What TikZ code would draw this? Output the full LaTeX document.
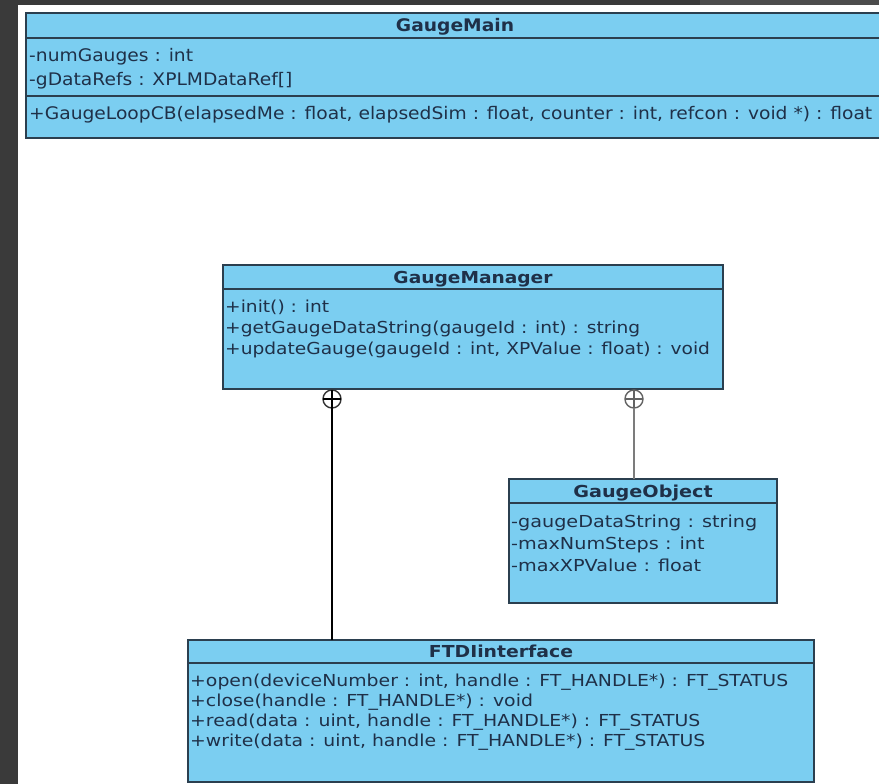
\documentclass[tikz,border=0pt]{standalone}
\usepackage{fontspec}
\usepackage{graphicx}
\newfontfamily\classfont{DejaVu Sans}
\definecolor{boxfill}{HTML}{7BCEF1}
\definecolor{boxline}{HTML}{2B3F4F}
\definecolor{txtcol}{HTML}{1F3048}
\definecolor{darkbg}{HTML}{3A3A3A}
\definecolor{darkbgb}{HTML}{4C4C4C}
\definecolor{conngray}{HTML}{7C7C7C}
\newlength\natw
\newcommand\cf{\classfont\fontsize{16.5}{19}\selectfont}
\begin{document}
\settowidth{\natw}{\cf +GaugeLoopCB(elapsedMe : float, elapsedSim : float, counter : int, refcon : void *) : float}%
\pgfmathsetmacro\sxA{843/\natw}%
\settowidth{\natw}{\cf +getGaugeDataString(gaugeId : int) : string}%
\pgfmathsetmacro\sxB{415/\natw}%
\settowidth{\natw}{\cf -gaugeDataString : string}%
\pgfmathsetmacro\sxC{246/\natw}%
\settowidth{\natw}{\cf +open(deviceNumber : int, handle : FT\_HANDLE*) : FT\_STATUS}%
\pgfmathsetmacro\sxD{598/\natw}%
\begin{tikzpicture}[x=1pt,y=-1pt,
  cls/.style={draw=boxline, fill=boxfill, line width=1.8pt, inner sep=0pt, outer sep=0pt, anchor=north west},
  sepline/.style={draw=boxline, line width=1.6pt},
  txt/.style={anchor=base west, inner sep=0pt, text=txtcol, font=\cf},
  ttl/.style={anchor=base, inner sep=0pt, text=txtcol, font=\cf\bfseries},
  pluscirc/.style={circle, draw, line width=1.4pt, minimum size=18pt, inner sep=0pt, outer sep=0pt, fill=white},
  assocblack/.style={draw=black, line width=1.4pt},
  assocgray/.style={draw=conngray, line width=2.8pt},
]
\useasboundingbox (0,0) rectangle (879,784);
\clip (0,0) rectangle (879,784);
\fill[white] (0,0) rectangle (879,784);
\fill[darkbg] (0,0) rectangle (18,784);
\fill[darkbg] (0,0) rectangle (700,5);
\fill[darkbgb] (700,0) rectangle (879,5);

% ---------- GaugeMain ----------
\node[cls, minimum width=858pt, minimum height=125pt] (gmain) at (26,13) {};
\draw[sepline] ([yshift=-25pt]gmain.north west) -- ([yshift=-25pt]gmain.north east);
\draw[sepline] ([yshift=-83pt]gmain.north west) -- ([yshift=-83pt]gmain.north east);
\node[ttl] (gmainT) at (455,32) {\scalebox{\sxA}[1.05]{GaugeMain}};
\node[txt] (gmainA1) at (29,62) {\scalebox{\sxA}[1.05]{-numGauges : int}};
\node[txt] (gmainA2) at (29,86) {\scalebox{\sxA}[1.05]{-gDataRefs : XPLMDataRef[]}};
\node[txt] (gmainO1) at (29,119) {\scalebox{\sxA}[1.05]{+GaugeLoopCB(elapsedMe : float, elapsedSim : float, counter : int, refcon : void *) : float}};

% ---------- GaugeManager ----------
\node[cls, minimum width=500pt, minimum height=124pt] (gmgr) at (223,265) {};
\draw[sepline] ([yshift=-24pt]gmgr.north west) -- ([yshift=-24pt]gmgr.north east);
\node[ttl] (gmgrT) at (473,283) {\scalebox{\sxB}[1]{GaugeManager}};
\node[txt] (gmgrO1) at (225,312) {\scalebox{\sxB}[1]{+init() : int}};
\node[txt] (gmgrO2) at (225,333) {\scalebox{\sxB}[1]{+getGaugeDataString(gaugeId : int) : string}};
\node[txt] (gmgrO3) at (225,354) {\scalebox{\sxB}[1]{+updateGauge(gaugeId : int, XPValue : float) : void}};

% ---------- GaugeObject ----------
\node[cls, minimum width=268pt, minimum height=124pt] (gobj) at (509,479) {};
\draw[sepline] ([yshift=-24pt]gobj.north west) -- ([yshift=-24pt]gobj.north east);
\node[ttl] (gobjT) at (643,497) {\scalebox{\sxC}[1]{GaugeObject}};
\node[txt] (gobjA1) at (511,527) {\scalebox{\sxC}[1]{-gaugeDataString : string}};
\node[txt] (gobjA2) at (511,549) {\scalebox{\sxC}[1]{-maxNumSteps : int}};
\node[txt] (gobjA3) at (511,571) {\scalebox{\sxC}[1]{-maxXPValue : float}};

% ---------- FTDIinterface ----------
\node[cls, minimum width=626pt, minimum height=142pt] (ftdi) at (188,640) {};
\draw[sepline] ([yshift=-23pt]ftdi.north west) -- ([yshift=-23pt]ftdi.north east);
\node[ttl] (ftdiT) at (501,657) {\scalebox{\sxD}[1]{FTDIinterface}};
\node[txt] (ftdiO1) at (190,686) {\scalebox{\sxD}[1]{+open(deviceNumber : int, handle : FT\_HANDLE*) : FT\_STATUS}};
\node[txt] (ftdiO2) at (190,706) {\scalebox{\sxD}[1]{+close(handle : FT\_HANDLE*) : void}};
\node[txt] (ftdiO3) at (190,726) {\scalebox{\sxD}[1]{+read(data : uint, handle : FT\_HANDLE*) : FT\_STATUS}};
\node[txt] (ftdiO4) at (190,746) {\scalebox{\sxD}[1]{+write(data : uint, handle : FT\_HANDLE*) : FT\_STATUS}};

% ---------- containment connectors ----------
\node[pluscirc, draw=black!80] (pc1) at (332,399) {};
\draw[assocblack] (pc1.west) -- (pc1.east);
\draw[assocblack] (pc1.north) -- (pc1.south);
\draw[assocblack] (pc1.south) -- (ftdi.north -| pc1.south);

\node[pluscirc, draw=conngray!80!black] (pc2) at (634,399) {};
\draw[draw=conngray!80!black, line width=1.4pt] (pc2.west) -- (pc2.east);
\draw[draw=conngray!80!black, line width=1.4pt] (pc2.north) -- (pc2.south);
\draw[assocgray] (pc2.south) -- (gobj.north -| pc2.south);
\end{tikzpicture}
\end{document}
